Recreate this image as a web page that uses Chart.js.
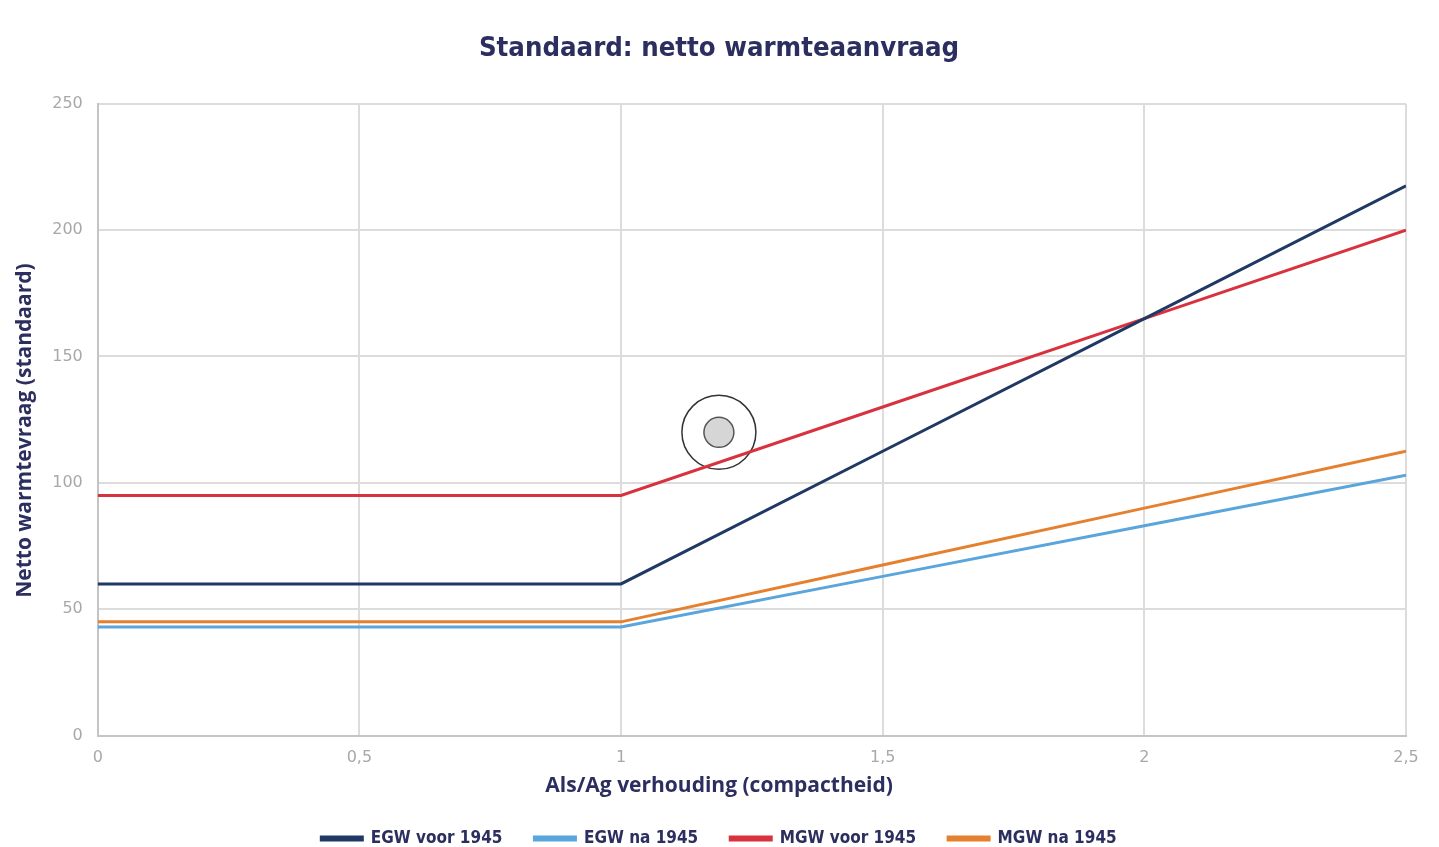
<!DOCTYPE html>
<html>
<head>
<meta charset="utf-8">
<script src="https://cdn.jsdelivr.net/npm/chart.js@4"></script>
<style>
  html, body { margin: 0; padding: 0; background: #ffffff; }
  #wrap { width: 1439px; height: 847px; position: relative; }
</style>
</head>
<body>
<div id="wrap"><canvas id="chart"></canvas></div>
<script>
// Als/Ag verhouding (x) and netto warmtevraag per type
const xValues = [0, 0.5, 1, 1.5, 2, 2.5];
const egwVoor1945 = [60, 60, 60, 112.5, 165, 217.5];
const egwNa1945 = [43, 43, 43, 63, 83, 103];
const mgwVoor1945 = [95, 95, 95, 130, 165, 200];
const mgwNa1945 = [45, 45, 45, 67.5, 90, 112.5];
const seriesNames = ["EGW voor 1945", "EGW na 1945", "MGW voor 1945", "MGW na 1945"];
const seriesColors = ["#1f3864", "#5aa5dc", "#d9323f", "#e5802f"];
// touch indicator seen on the screenshot
const cursorPoint = [{ x: 1.187, y: 120 }];

const navy = "#2b2e5e";
const toPoints = (vals) => vals.map((v, i) => ({ x: xValues[i], y: v }));
// trailing no-break spaces nudge the axis titles off the plot centre, as in the original
const pad = (n) => "\u00a0".repeat(n);

const lineSets = [egwVoor1945, egwNa1945, mgwVoor1945, mgwNa1945].map((vals, i) => ({
  label: seriesNames[i],
  data: toPoints(vals),
  borderColor: seriesColors[i],
  backgroundColor: seriesColors[i],
  borderWidth: 3,
  pointRadius: 0,
  showLine: true,
  tension: 0,
}));

const ctx = document.getElementById("chart").getContext("2d");

new Chart(ctx, {
  type: "scatter",
  data: {
    datasets: [
      ...lineSets,
      {
        label: "cursor-ring",
        data: cursorPoint,
        pointRadius: 37,
        pointBackgroundColor: "rgba(0,0,0,0)",
        pointBorderColor: "#333333",
        pointBorderWidth: 1.5,
        showLine: false,
      },
      {
        label: "cursor-dot",
        data: cursorPoint,
        pointRadius: 15,
        pointBackgroundColor: "#d6d6d6",
        pointBorderColor: "#555555",
        pointBorderWidth: 1.5,
        showLine: false,
      },
    ],
  },
  options: {
    responsive: true,
    maintainAspectRatio: false,
    animation: false,
    layout: {
      autoPadding: false,
      padding: { left: 12, right: 13, top: 20, bottom: -10 },
    },
    plugins: {
      title: {
        display: true,
        text: "Standaard: netto warmteaanvraag",
        color: navy,
        font: { family: "DejaVu Sans Condensed", size: 27.3, weight: "bold" },
        padding: { top: 13, bottom: 38 },
      },
      legend: {
        position: "bottom",
        labels: {
          color: navy,
          font: { family: "DejaVu Sans Condensed", size: 17, weight: "bold" },
          boxWidth: 41,
          boxHeight: 3,
          padding: 32,
          filter: (item) => item.datasetIndex < 4,
        },
      },
      tooltip: { enabled: false },
    },
    scales: {
      x: {
        type: "linear",
        min: 0,
        max: 2.5,
        afterFit: (scale) => {
          scale.paddingRight = 33;
        },
        ticks: {
          stepSize: 0.5,
          color: "#a8a8a8",
          font: { family: "DejaVu Sans", size: 16 },
          padding: 13,
          callback: (v) => String(v).replace(".", ","),
        },
        grid: { color: "#dcdcdc", lineWidth: 2, drawTicks: false },
        border: { color: "#c4c4c4", width: 2 },
        title: {
          display: true,
          text: "Als/Ag verhouding (compactheid)" + pad(12),
          color: navy,
          font: { family: "Open Sans", size: 21, weight: "bold" },
          padding: { top: -7, bottom: -1 },
        },
      },
      y: {
        min: 0,
        max: 250,
        ticks: {
          stepSize: 50,
          color: "#a8a8a8",
          font: { family: "DejaVu Sans", size: 16 },
          padding: 15,
        },
        grid: { color: "#dcdcdc", lineWidth: 2, drawTicks: false },
        border: { color: "#c4c4c4", width: 2 },
        title: {
          display: true,
          text: "Netto warmtevraag (standaard)" + pad(4),
          color: navy,
          font: { family: "Open Sans", size: 21, weight: "bold" },
          padding: { top: 0, bottom: 0 },
        },
      },
    },
  },
});
</script>
</body>
</html>
